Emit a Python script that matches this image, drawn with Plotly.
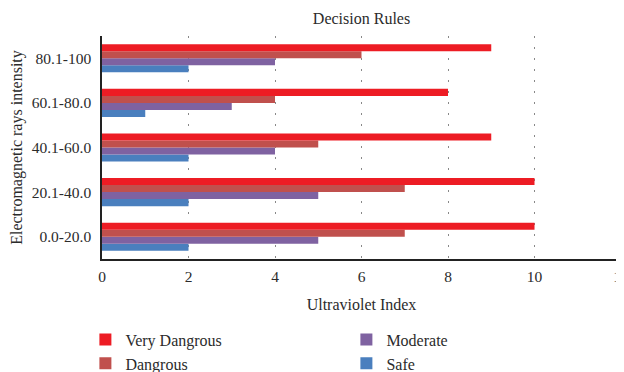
import plotly.graph_objects as go

categories = ["0.0-20.0", "20.1-40.0", "40.1-60.0", "60.1-80.0", "80.1-100"]
very_dangrous = [10, 10, 9, 8, 9]
dangrous = [7, 7, 5, 4, 6]
moderate = [5, 5, 4, 3, 4]
safe = [2, 2, 2, 1, 2]
x_ticks = [0, 2, 4, 6, 8, 10, 12]

FONT = "Liberation Serif"
TXT = "#2b2b2b"

fig = go.Figure()
# add bottom-to-top within each group
series = [
    ("Safe", safe, "#4a7fbe", 4),
    ("Moderate", moderate, "#7f62a1", 2),
    ("Dangrous", dangrous, "#c0504d", 3),
    ("Very Dangrous", very_dangrous, "#ed1c24", 1),
]
for name, vals, color, rank in series:
    fig.add_trace(go.Bar(
        y=categories, x=vals, name=name, orientation="h",
        marker=dict(color=color, line=dict(width=0)),
        legendrank=rank,
    ))

# page body has an 8px margin, so the figure is 8px smaller each way
fig.update_layout(
    width=616, height=364,
    margin=dict(l=94, r=3, t=28, b=113, autoexpand=False),
    paper_bgcolor="white", plot_bgcolor="white",
    font=dict(family=FONT, size=16, color=TXT),
    barmode="group", bargap=0.37, bargroupgap=0,
    title=dict(text="Decision Rules", x=0.5, xref="paper", xanchor="center",
               y=1 - 10 / 364, yref="container", yanchor="middle",
               font=dict(family=FONT, size=16, color=TXT)),
    xaxis=dict(
        range=[0, 12], tickvals=x_ticks, ticktext=[str(v) for v in x_ticks],
        showgrid=True, gridcolor="#888", gridwidth=1, griddash="2px,9px",
        zeroline=False, showline=True, linecolor="#222", linewidth=1.5,
        ticks="", ticklabelstandoff=3, automargin=False,
        ticklabeloverflow="allow",
        tickfont=dict(family=FONT, size=15.5, color=TXT),
        title=dict(text="Ultraviolet Index", standoff=14,
                   font=dict(family=FONT, size=16, color=TXT)),
    ),
    yaxis=dict(
        range=[-0.5, 4.5], showgrid=False, zeroline=False,
        showline=True, linecolor="#222", linewidth=1.5,
        ticks="", ticklabelstandoff=6, automargin=False,
        tickfont=dict(family=FONT, size=15.5, color=TXT),
        title=dict(text="Electromagnetic rays intensity", standoff=8,
                   font=dict(family=FONT, size=16, color=TXT)),
    ),
    legend=dict(
        orientation="h", x=-0.032, xanchor="left", y=-0.285, yanchor="top",
        entrywidth=216, entrywidthmode="pixels", traceorder="normal",
        font=dict(family=FONT, size=16, color=TXT), bgcolor="rgba(0,0,0,0)",
    ),
)

fig.write_html("out.html")
